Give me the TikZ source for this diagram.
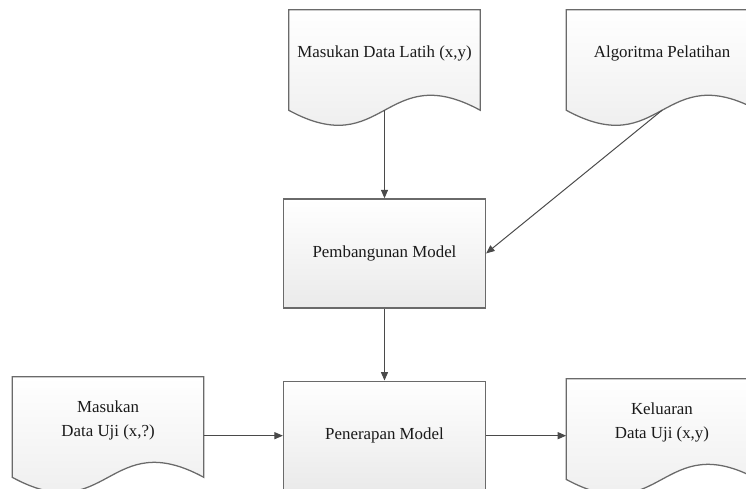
\documentclass[tikz,border=0pt]{standalone}
\usepackage{fontspec}
\setmainfont{Liberation Serif}
\usepackage{tikz}
\usetikzlibrary{
  arrows.meta,
  positioning,
  calc,
  backgrounds
}
\definecolor{border}{HTML}{6A6A6A}
\definecolor{arrowcolor}{HTML}{4A4A4A}
\definecolor{textprimary}{HTML}{1A1A1A}
\definecolor{shade}{HTML}{EAEAEA}
\pgfdeclarelayer{background}
\pgfsetlayers{background,main}
% document outline with a wavy bottom, drawn behind node #1
\newcommand{\docshape}[1]{%
  \draw[docline]
    ([yshift=-0.35cm]#1.south west) -- (#1.north west) -- (#1.north east)
    -- ([yshift=-0.35cm]#1.south east)
    .. controls +(-2.39cm,1.3cm) and +(2.39cm,-1.3cm) ..
    ([yshift=-0.35cm]#1.south west) -- cycle;
  \coordinate (#1-wave) at ([yshift=-0.35cm]#1.south);}
\tikzset{
  base/.style={
    text=textprimary,
    font=\fontsize{12}{17}\selectfont,
    align=center,
    inner sep=2pt,
  },
  procbox/.style={
    base,
    draw=border,
    top color=white,
    bottom color=shade,
    minimum width=5.05cm,
    minimum height=2.725cm,
    line width=0.9pt,
  },
  docbox/.style={
    base,
    minimum width=4.775cm,
    minimum height=2.15cm,
  },
  docline/.style={
    draw=border,
    top color=white,
    bottom color=shade,
    line width=0.9pt,
  },
  flow/.style={
    -{Triangle[length=6pt, width=5pt]},
    line width=0.7pt,
    draw=arrowcolor,
  },
}

\begin{document}
\begin{tikzpicture}

\useasboundingbox (-9.6125,-10.9) rectangle (9.0375,1.325);

% === TOP: inputs for training ===

\node[docbox] (latih) {Masukan Data Latih (x,y)};

\node[docbox, right=2.15cm of latih] (algo) {Algoritma Pelatihan};

% === MIDDLE: model building ===

\node[procbox, below=2.55cm of latih] (bangun) {Pembangunan Model};

% === BOTTOM: applying the model ===

\node[procbox, below=1.8cm of bangun] (terap) {Penerapan Model};

\node[docbox, left=1.975cm of terap, yshift=0.39cm]
  (uji) {Masukan\\Data Uji (x,?)};

\node[docbox, right=2cm of terap, yshift=0.34cm]
  (keluaran) {Keluaran\\Data Uji (x,y)};

% document shapes behind the texts
\begin{pgfonlayer}{background}
  \clip (-9.6125,-10.9) rectangle (9.0375,1.325);
  \docshape{latih}
  \docshape{algo}
  \docshape{uji}
  \docshape{keluaran}
\end{pgfonlayer}

% === Connectors ===
\draw[flow] (latih-wave) -- (bangun.north);
\draw[flow] (algo-wave) -- (bangun.east);
\draw[flow] (bangun.south) -- (terap.north);
\draw[flow] (uji.east |- terap.west) -- (terap.west);
\draw[flow] (terap.east) -- (keluaran.west |- terap.east);

\end{tikzpicture}
\end{document}
